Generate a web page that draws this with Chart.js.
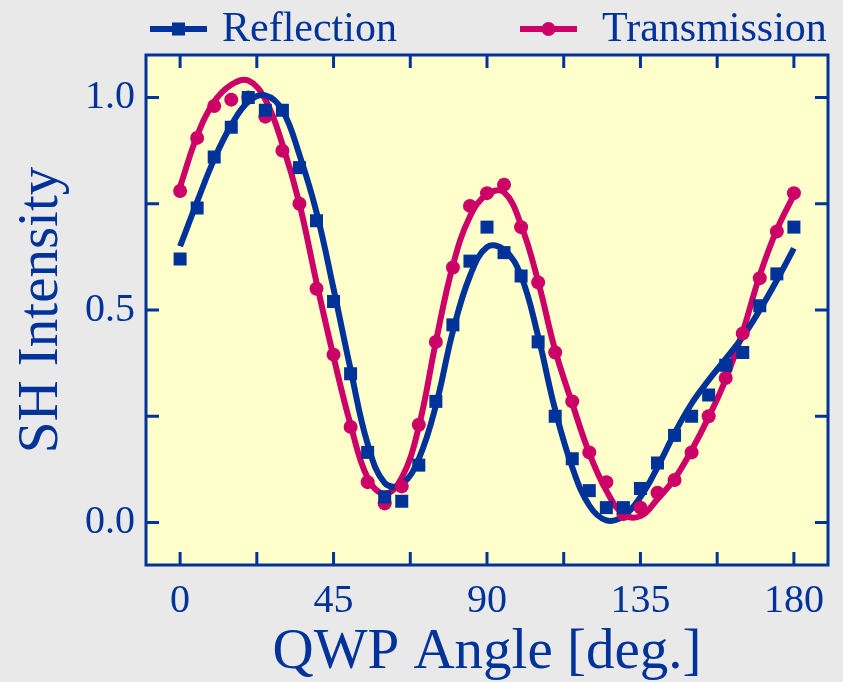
<!DOCTYPE html>
<html>
<head>
<meta charset="utf-8">
<script src="https://cdn.jsdelivr.net/npm/chart.js@4.4.0/dist/chart.umd.min.js"></script>
<style>
  body { margin: 0; background: #e9e9e9; }
  #wrap { width: 843px; height: 682px; }
</style>
</head>
<body>
<div id="wrap"><canvas id="shgChart"></canvas></div>
<script>
// QWP angle in degrees, one measurement every 5 deg
const angles = [0, 5, 10, 15, 20, 25, 30, 35, 40, 45, 50, 55, 60, 65, 70, 75, 80, 85, 90,
  95, 100, 105, 110, 115, 120, 125, 130, 135, 140, 145, 150, 155, 160, 165, 170, 175, 180];

// measured SH intensity (markers)
const reflection = [0.62, 0.74, 0.86, 0.93, 1.00, 0.97, 0.97, 0.835, 0.71, 0.52, 0.35, 0.165,
  0.06, 0.05, 0.135, 0.285, 0.465, 0.615, 0.695, 0.635, 0.58, 0.425, 0.25, 0.15, 0.075,
  0.035, 0.035, 0.08, 0.14, 0.205, 0.25, 0.30, 0.37, 0.40, 0.51, 0.585, 0.695];
const transmission = [0.78, 0.905, 0.98, 0.995, 1.00, 0.955, 0.875, 0.75, 0.55, 0.395, 0.225,
  0.095, 0.045, 0.085, 0.23, 0.425, 0.60, 0.745, 0.775, 0.795, 0.695, 0.565, 0.40, 0.285,
  0.165, 0.095, 0.02, 0.035, 0.07, 0.10, 0.165, 0.25, 0.34, 0.445, 0.575, 0.685, 0.775];

// fitted curves at the same angles
const reflectionFit = [0.65, 0.755, 0.855, 0.935, 0.99, 1.005, 0.97, 0.865, 0.73, 0.55, 0.36,
  0.185, 0.093, 0.09, 0.15, 0.275, 0.45, 0.58, 0.648, 0.642, 0.58, 0.438, 0.265, 0.13, 0.04,
  0.005, 0.015, 0.06, 0.13, 0.21, 0.28, 0.335, 0.385, 0.437, 0.50, 0.57, 0.645];
const transmissionFit = [0.79, 0.91, 0.99, 1.03, 1.04, 0.995, 0.89, 0.75, 0.565, 0.39, 0.23,
  0.105, 0.068, 0.105, 0.225, 0.425, 0.605, 0.72, 0.772, 0.777, 0.70, 0.567, 0.405, 0.28,
  0.163, 0.075, 0.02, 0.015, 0.055, 0.103, 0.17, 0.248, 0.337, 0.449, 0.582, 0.689, 0.771];

const xTicks = [0, 22.5, 45, 67.5, 90, 112.5, 135, 157.5, 180];
const yTicks = [0, 0.25, 0.5, 0.75, 1.0];
const xLabels = [0, 45, 90, 135, 180];
const yLabels = [0, 0.5, 1.0];

const BLUE = "#003399";
const RED = "#cc0066";
const FONT = "'Liberation Serif', 'Times New Roman', serif";

function points(xs, ys) {
  return xs.map((x, i) => ({ x: x, y: ys[i] }));
}

// yellow plot background, frame and inward ticks on all four sides
const frame = {
  id: "frame",
  beforeDraw(chart) {
    const { ctx, chartArea: a } = chart;
    ctx.save();
    ctx.fillStyle = "#ffffcc";
    ctx.fillRect(a.left, a.top, a.right - a.left, a.bottom - a.top);
    ctx.restore();
  },
  afterDraw(chart) {
    const { ctx, chartArea: a, scales } = chart;
    const len = 13;
    ctx.save();
    ctx.strokeStyle = BLUE;
    ctx.lineWidth = 3;
    ctx.beginPath();
    xTicks.forEach(v => {
      const px = scales.x.getPixelForValue(v);
      ctx.moveTo(px, a.bottom); ctx.lineTo(px, a.bottom - len);
      ctx.moveTo(px, a.top); ctx.lineTo(px, a.top + len);
    });
    yTicks.forEach(v => {
      const py = scales.y.getPixelForValue(v);
      ctx.moveTo(a.left, py); ctx.lineTo(a.left + len, py);
      ctx.moveTo(a.right, py); ctx.lineTo(a.right - len, py);
    });
    ctx.stroke();
    ctx.strokeRect(a.left, a.top, a.right - a.left, a.bottom - a.top);
    ctx.restore();
  }
};

// legend across the top: line with marker, then the label (labels are blue)
const topLegend = {
  id: "topLegend",
  afterDraw(chart) {
    const ctx = chart.ctx;
    const items = [
      { text: "Reflection", color: BLUE, style: "rect", x: 150, textX: 222 },
      { text: "Transmission", color: RED, style: "circle", x: 520, textX: 602 }
    ];
    ctx.save();
    items.forEach(it => {
      const y = 29;
      ctx.strokeStyle = it.color;
      ctx.fillStyle = it.color;
      ctx.lineWidth = 6;
      ctx.beginPath();
      ctx.moveTo(it.x, y);
      ctx.lineTo(it.x + 57, y);
      ctx.stroke();
      const cx = it.x + 28.5;
      if (it.style === "rect") {
        ctx.fillRect(cx - 6.5, y - 6.5, 13, 13);
      } else {
        ctx.beginPath();
        ctx.arc(cx, y, 7, 0, Math.PI * 2);
        ctx.fill();
      }
      ctx.fillStyle = BLUE;
      ctx.font = "42px " + FONT;
      ctx.textBaseline = "alphabetic";
      ctx.fillText(it.text, it.textX, 41);
    });
    ctx.restore();
  }
};

new Chart(document.getElementById("shgChart"), {
  type: "scatter",
  data: {
    datasets: [
      {
        label: "Reflection",
        data: points(angles, reflection),
        showLine: false,
        pointStyle: "rect",
        pointRadius: 9.2,
        pointBorderWidth: 0,
        pointBackgroundColor: BLUE,
        order: 1
      },
      {
        label: "Transmission",
        data: points(angles, transmission),
        showLine: false,
        pointStyle: "circle",
        pointRadius: 7,
        pointBorderWidth: 0,
        pointBackgroundColor: RED,
        order: 2
      },
      {
        label: "Reflection fit",
        data: points(angles, reflectionFit),
        showLine: true,
        borderColor: BLUE,
        borderWidth: 6,
        pointRadius: 0,
        tension: 0.4,
        order: 3
      },
      {
        label: "Transmission fit",
        data: points(angles, transmissionFit),
        showLine: true,
        borderColor: RED,
        borderWidth: 6,
        pointRadius: 0,
        tension: 0.4,
        order: 4
      }
    ]
  },
  options: {
    responsive: true,
    maintainAspectRatio: false,
    animation: false,
    layout: { padding: { top: 55, right: 15, bottom: 0, left: 0 } },
    plugins: {
      legend: { display: false },
      tooltip: { enabled: false }
    },
    scales: {
      x: {
        type: "linear",
        min: -10,
        max: 190,
        afterBuildTicks: s => { s.ticks = xTicks.map(v => ({ value: v })); },
        afterFit: s => { s.height = 117; },
        grid: { display: false },
        border: { display: false },
        ticks: {
          autoSkip: false,
          maxRotation: 0,
          padding: 4,
          color: BLUE,
          font: { family: FONT, size: 40 },
          callback: v => xLabels.includes(v) ? String(v) : ""
        },
        title: {
          display: true,
          text: "QWP Angle [deg.]",
          color: BLUE,
          font: { family: FONT, size: 57, lineHeight: 1 },
          padding: { top: 0, bottom: 0 }
        }
      },
      y: {
        min: -0.1,
        max: 1.1,
        afterBuildTicks: s => { s.ticks = yTicks.map(v => ({ value: v })); },
        afterFit: s => { s.width = 146; },
        grid: { display: false },
        border: { display: false },
        ticks: {
          padding: 3,
          color: BLUE,
          font: { family: FONT, size: 40 },
          callback: v => yLabels.includes(v) ? v.toFixed(1) : ""
        },
        title: {
          display: true,
          text: "SH Intensity",
          color: BLUE,
          font: { family: FONT, size: 57, lineHeight: 1 },
          padding: { top: 14, bottom: 0 }
        }
      }
    }
  },
  plugins: [frame, topLegend]
});
</script>
</body>
</html>
